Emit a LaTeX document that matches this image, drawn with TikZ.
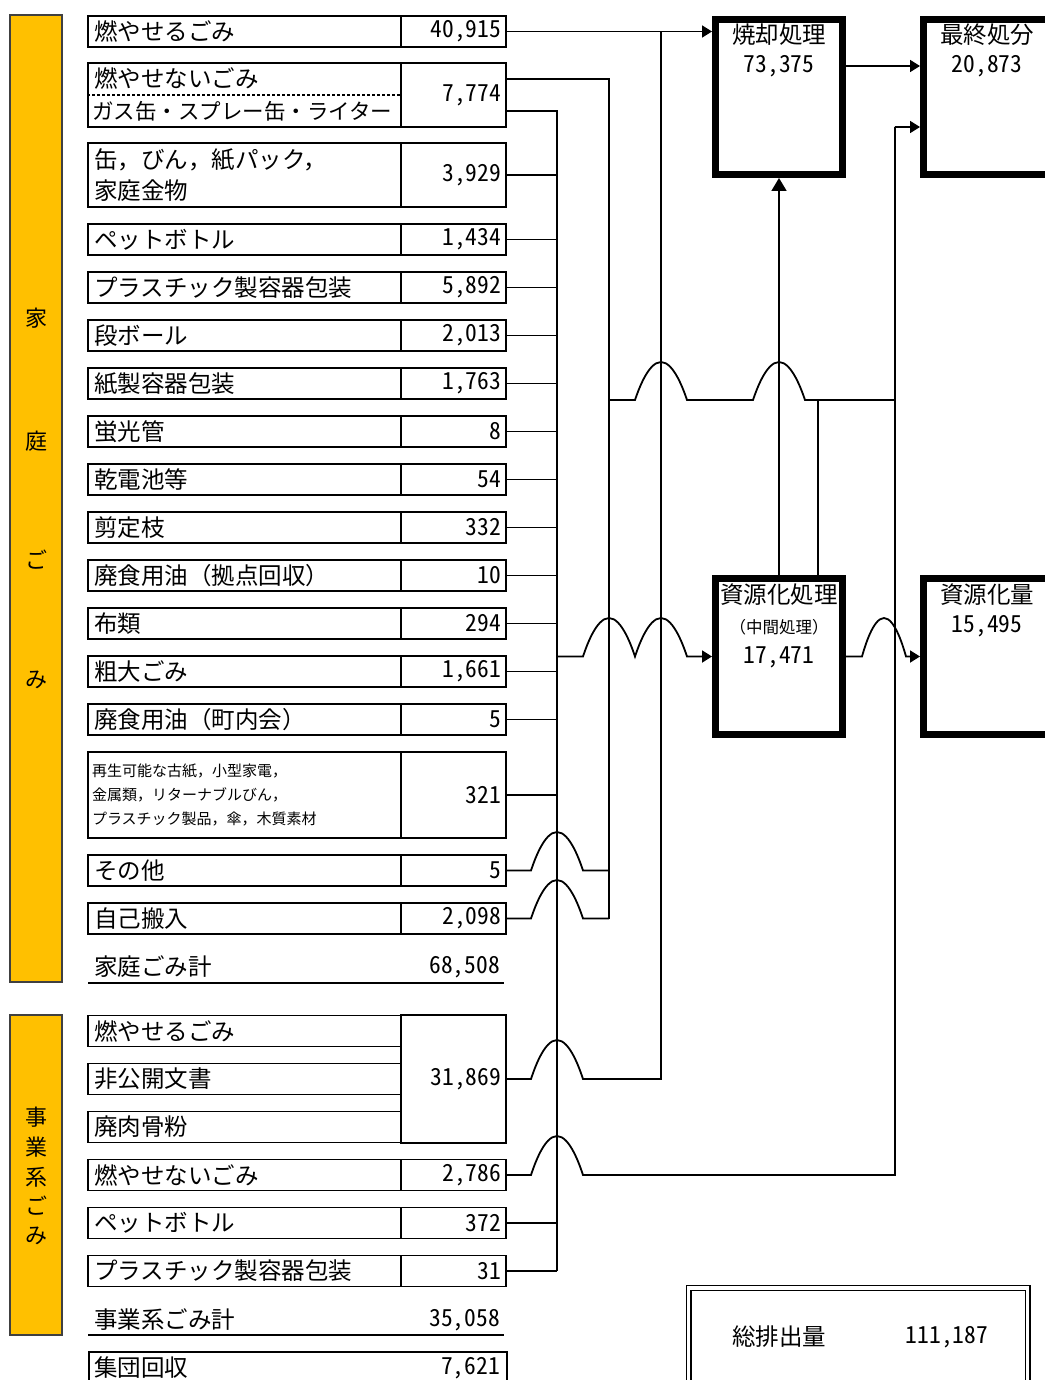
\documentclass[tikz,border=0pt]{standalone}
\usepackage{fontspec}
\setmainfont{Noto Sans CJK JP}
\newfontfamily\numfont[RawFeature=+hwid]{Noto Sans CJK JP}
\usetikzlibrary{arrows.meta}
\definecolor{gold}{HTML}{FFC000}
\newcommand\lf{\fontsize{23.5}{31}\selectfont}
\newcommand\nf{\numfont\fontsize{23.5}{28}\selectfont}
\begin{document}
\begin{tikzpicture}[x=1pt,y=-1pt,
 lbox/.style={draw,line width=1.6pt,text width=301pt,inner xsep=6pt,inner ysep=0pt,minimum height=31pt,align=left,font=\lf},
 vbox/.style={draw,line width=1.6pt,text width=95pt,inner xsep=5pt,inner ysep=0pt,minimum height=31pt,align=right,font=\nf},
 conn/.style={line width=1.8pt},
 arr/.style={conn,-{Triangle[length=10pt,width=12pt]}},
 arrbig/.style={conn,-{Triangle[length=13pt,width=15pt]}},
 heavy/.style={draw,line width=7pt,inner sep=0pt},
 title/.style={font=\lf,inner sep=0pt},
 num/.style={font=\nf,inner sep=0pt},
 bar/.style={draw=black!75,fill=gold,line width=1.3pt,minimum width=52pt,inner sep=0pt},
 bartxt/.style={font=\fontsize{22}{22}\selectfont,inner sep=0pt}]
\useasboundingbox (0,0) rectangle (1044,1380);

% ---------- household ----------
\node[bar,minimum height=967pt] (hbar) at (36,498.5) {};
\node[bartxt] (hk1) at (36,318) {家};
\node[bartxt] (hk2) at (36,441) {庭};
\node[bartxt] (hk3) at (36,560) {ご};
\node[bartxt] (hk4) at (36,680) {み};

\node[lbox] (h1) at (244.5,31.5) {燃やせるごみ};
\node[vbox] (v1) at (453.5,31.5) {40,915};
\node[lbox,minimum height=64pt] (h2) at (244.5,95) {};
\node[title,anchor=west] (h2a) at (94,79) {燃やせないごみ};
\node[title,anchor=west,font=\fontsize{21.5}{21.5}\selectfont] (h2b) at (92,111) {ガス缶・スプレー缶・ライター};
\draw[line width=1.8pt,dash pattern=on 3pt off 2pt] (h2.west) -- (h2.east);
\node[vbox,minimum height=64pt] (v2) at (453.5,95) {7,774};
\node[lbox,minimum height=64pt] (h3) at (244.5,175) {缶，びん，紙パック，\\家庭金物};
\node[vbox,minimum height=64pt] (v3) at (453.5,175) {3,929};
\node[lbox] (h4) at (244.5,239.5) {ペットボトル};
\node[vbox] (v4) at (453.5,239.5) {1,434};
\node[lbox] (h5) at (244.5,287.5) {プラスチック製容器包装};
\node[vbox] (v5) at (453.5,287.5) {5,892};
\node[lbox] (h6) at (244.5,335.5) {段ボール};
\node[vbox] (v6) at (453.5,335.5) {2,013};
\node[lbox] (h7) at (244.5,383.5) {紙製容器包装};
\node[vbox] (v7) at (453.5,383.5) {1,763};
\node[lbox] (h8) at (244.5,431.5) {蛍光管};
\node[vbox] (v8) at (453.5,431.5) {8};
\node[lbox] (h9) at (244.5,479.5) {乾電池等};
\node[vbox] (v9) at (453.5,479.5) {54};
\node[lbox] (h10) at (244.5,527.5) {剪定枝};
\node[vbox] (v10) at (453.5,527.5) {332};
\node[lbox] (h11) at (244.5,575.5) {廃食用油（拠点回収）};
\node[vbox] (v11) at (453.5,575.5) {10};
\node[lbox] (h12) at (244.5,623.5) {布類};
\node[vbox] (v12) at (453.5,623.5) {294};
\node[lbox] (h13) at (244.5,671.5) {粗大ごみ};
\node[vbox] (v13) at (453.5,671.5) {1,661};
\node[lbox] (h14) at (244.5,719.5) {廃食用油（町内会）};
\node[vbox] (v14) at (453.5,719.5) {5};
\node[lbox,minimum height=86pt,inner xsep=4pt,text width=305pt,font=\fontsize{15}{24}\selectfont] (h15) at (244.5,795) {再生可能な古紙，小型家電，\\金属類，リターナブルびん，\\プラスチック製品，傘，木質素材};
\node[vbox,minimum height=86pt] (v15) at (453.5,795) {321};
\node[lbox] (h16) at (244.5,870.5) {その他};
\node[vbox] (v16) at (453.5,870.5) {5};
\node[lbox] (h17) at (244.5,918.5) {自己搬入};
\node[vbox] (v17) at (453.5,918.5) {2,098};
\node[title,anchor=west] (htot) at (94,967) {家庭ごみ計};
\node[num,anchor=east] (htotv) at (500,967) {68,508};
\draw[line width=1.8pt] (88,983) -- (504,983);

% ---------- business ----------
\node[bar,minimum height=320pt] (bbar) at (36,1175) {};
\node[bartxt] (bk1) at (36,1117) {事};
\node[bartxt] (bk2) at (36,1147) {業};
\node[bartxt] (bk3) at (36,1177) {系};
\node[bartxt] (bk4) at (36,1206) {ご};
\node[bartxt] (bk5) at (36,1236) {み};

\node[lbox] (b1) at (244.5,1031) {燃やせるごみ};
\node[lbox] (b2) at (244.5,1079) {非公開文書};
\node[lbox] (b3) at (244.5,1127) {廃肉骨粉};
\node[vbox,minimum height=128pt] (vb1) at (453.5,1079) {31,869};
\node[lbox] (b4) at (244.5,1175) {燃やせないごみ};
\node[vbox] (vb4) at (453.5,1175) {2,786};
\node[lbox] (b5) at (244.5,1223) {ペットボトル};
\node[vbox] (vb5) at (453.5,1223) {372};
\node[lbox] (b6) at (244.5,1271) {プラスチック製容器包装};
\node[vbox] (vb6) at (453.5,1271) {31};
\node[title,anchor=west] (btot) at (94,1320) {事業系ごみ計};
\node[num,anchor=east] (btotv) at (500,1320) {35,058};
\draw[line width=1.8pt] (88,1335) -- (504,1335);

\node[draw,line width=1.6pt,minimum width=418pt,minimum height=60pt,anchor=north west,inner sep=0pt] (grp) at (88,1351) {};
\node[title,anchor=west] (grpl) at (94,1368) {集団回収};
\node[num,anchor=east] (grpv) at (500,1368) {7,621};

% ---------- total ----------
\node[draw,double,double distance=3.5pt,line width=1.3pt,minimum width=339pt,minimum height=160pt,anchor=north west,inner sep=0pt] (tot) at (688,1287.5) {};
\node[title] (totl) at (779,1337) {総排出量};
\node[num] (totv) at (947,1337) {111,187};

% ---------- processing boxes ----------
\node[heavy,minimum width=127pt,minimum height=155pt] (inc) at (779,97) {};
\node[heavy,minimum width=131pt,minimum height=155pt] (fin) at (989,97) {};
\node[heavy,minimum width=127pt,minimum height=156pt] (res) at (779,656.5) {};
\node[heavy,minimum width=131pt,minimum height=156pt] (amt) at (989,656.5) {};
\node[title] (incT) at (779,35) {焼却処理};
\node[num] (incV) at (779,66) {73,375};
\node[title] (finT) at (987,35) {最終処分};
\node[num] (finV) at (987,66) {20,873};
\node[title] (resT) at (779,595) {資源化処理};
\node[title,font=\fontsize{16.5}{16.5}\selectfont] (resS) at (779,627) {（中間処理）};
\node[num] (resV) at (779,657) {17,471};
\node[title] (amtT) at (987,595) {資源化量};
\node[num] (amtV) at (987,626) {15,495};

% ---------- connectors ----------
\coordinate (Abot) at (557,1271);
\coordinate (Bbot) at (609,918.5);
\coordinate (Ctop) at (661,31.5);
\coordinate (Dtop) at (895,127);
\coordinate (Amid) at (557,656.5);
\coordinate (Bmid) at (609,400);
\coordinate (Dmid) at (895,400);
\coordinate (Jres) at (818,400);

\draw[arr] (v1.east) -- (v1.east -| inc.west);
\draw[conn] (v2.east |- h2b) -| (Abot);
\draw[conn] (v2.east |- h2a) -| (Bbot);
\foreach \n in {3,...,15} \draw[conn] (v\n.east) -- (v\n.east -| Abot);
\draw[conn] (vb5.east) -- (vb5.east -| Abot);
\draw[conn] (vb6.east) -- (Abot);
\draw[conn] (v16.east) -- (531,870.5) parabola bend (557,832) (583,870.5) -- (v16.east -| Bbot);
\draw[conn] (v17.east) -- (531,918.5) parabola bend (557,880) (583,918.5) -- (Bbot);
\draw[conn] (vb1.east) -- (531,1079) parabola bend (557,1040) (583,1079) -| (Ctop);
\draw[conn] (vb4.east) -- (531,1175) parabola bend (557,1136) (583,1175) -| (Dtop);
\draw[arr] (Dtop) -- (Dtop -| fin.west);
\draw[conn] (Bmid) -- (635,400) parabola bend (661,362) (687,400) -- (753,400) parabola bend (779,362) (805,400) -- (Dmid);
\draw[conn] (Jres) -- (Jres |- res.north);
\draw[arr] (Amid) -- (583,656.5) parabola bend (609,618) (635,656.5) parabola bend (661,618) (687,656.5) -- (Amid -| res.west);
\draw[arr] (res.east) -- (862,656.5) parabola bend (884,618) (906,656.5) -- (res.east -| amt.west);
\draw[arrbig] (res.north) -- (inc.south);
\draw[arr] (inc.east |- incV) -- (incV -| fin.west);
\end{tikzpicture}
\end{document}
